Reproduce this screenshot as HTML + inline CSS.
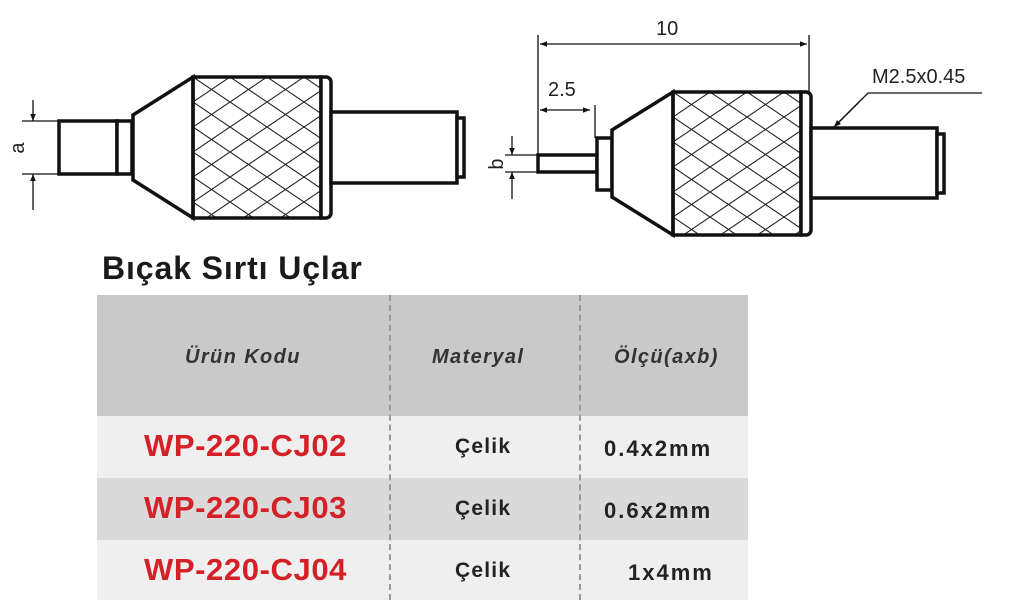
<!DOCTYPE html>
<html><head><meta charset="utf-8"><style>
body{margin:0;width:1024px;height:603px;background:#fff;overflow:hidden;font-family:"Liberation Sans",sans-serif;position:relative}
.t{position:absolute;white-space:nowrap}
.h{font-size:20px;font-style:italic;font-weight:bold;color:#333;letter-spacing:1.4px;top:346px}
.c{font-size:31px;font-weight:bold;color:#d42027;letter-spacing:0.6px;left:144px}
.m{font-size:21px;font-weight:bold;color:#222;letter-spacing:1.2px}
</style></head><body>
<svg width="1024" height="260" style="position:absolute;left:0;top:0" font-family="Liberation Sans, sans-serif">
<defs>
<pattern id="k" x="193" y="77" width="37" height="25" patternUnits="userSpaceOnUse">
<path d="M-1,-0.7 L38,25.7 M-1,25.7 L38,-0.7" stroke="#222" stroke-width="1.1" fill="none"/>
</pattern>
<pattern id="k2" x="673" y="92" width="37" height="25" patternUnits="userSpaceOnUse">
<path d="M-1,-0.7 L38,25.7 M-1,25.7 L38,-0.7" stroke="#222" stroke-width="1.1" fill="none"/>
</pattern>
<marker id="a" viewBox="0 0 10 10" refX="10" refY="5" markerWidth="9" markerHeight="7" orient="auto-start-reverse" markerUnits="userSpaceOnUse"><path d="M0,1 L10,5 L0,9 z" fill="#111"/></marker>
</defs>
<g stroke="#111" fill="#fff" stroke-width="3.5">
<rect x="59" y="121" width="58" height="53"/>
<rect x="117" y="121" width="15" height="53"/>
<polygon points="133,115 193,77 193,218 133,180"/>
<rect x="193" y="77" width="128" height="141" fill="url(#k)"/>
<path d="M321,77 h5 a5,5 0 0 1 5,5 v131 a5,5 0 0 1 -5,5 h-5 z" fill="#fff"/>
<rect x="331" y="112" width="126" height="71"/>
<rect x="457" y="118" width="7" height="59"/>
<rect x="538" y="155" width="59" height="17"/>
<rect x="597" y="138" width="15" height="52"/>
<polygon points="612,130 673,92 673,235 612,197"/>
<rect x="673" y="92" width="128" height="143" fill="url(#k2)"/>
<path d="M801,92 h5 a5,5 0 0 1 5,5 v133 a5,5 0 0 1 -5,5 h-5 z" fill="#fff"/>
<rect x="811" y="128" width="126" height="70"/>
<rect x="937" y="134" width="7" height="59"/>
</g>
<g stroke="#111" stroke-width="1.3" fill="none">
<line x1="22" y1="121" x2="59" y2="121"/><line x1="22" y1="174" x2="59" y2="174"/>
<line x1="33" y1="100" x2="33" y2="121" marker-end="url(#a)"/>
<line x1="33" y1="210" x2="33" y2="174" marker-end="url(#a)"/>
<line x1="538" y1="35" x2="538" y2="172"/>
<line x1="809" y1="35" x2="809" y2="92"/>
<line x1="540" y1="44" x2="807" y2="44" marker-start="url(#a)" marker-end="url(#a)"/>
<line x1="595" y1="105" x2="595" y2="138"/>
<line x1="540" y1="110" x2="590" y2="110" marker-start="url(#a)" marker-end="url(#a)"/>
<line x1="505" y1="155" x2="538" y2="155"/><line x1="505" y1="172" x2="538" y2="172"/>
<line x1="512" y1="136" x2="512" y2="155" marker-end="url(#a)"/>
<line x1="512" y1="199" x2="512" y2="172" marker-end="url(#a)"/>
<polyline points="982,93 868,93 835,126"/>
<line x1="860" y1="101" x2="834" y2="127" marker-end="url(#a)"/>
</g>
<g fill="#222" font-size="20">
<text x="656" y="35">10</text>
<text x="548" y="96">2.5</text>
<text x="872" y="83">M2.5x0.45</text>
<text transform="translate(24,148) rotate(-90)" text-anchor="middle">a</text>
<text transform="translate(503,164) rotate(-90)" text-anchor="middle">b</text>
</g>
</svg>
<div class="t" style="left:102px;top:250px;font-size:32px;font-weight:bold;color:#1a1a1a;letter-spacing:0.9px">Bıçak Sırtı Uçlar</div>
<div style="position:absolute;left:97px;top:295px;width:651px;height:121px;background:#c9c9c9"></div>
<div style="position:absolute;left:97px;top:416px;width:651px;height:62px;background:#efefef"></div>
<div style="position:absolute;left:97px;top:478px;width:651px;height:62px;background:#dadada"></div>
<div style="position:absolute;left:97px;top:540px;width:651px;height:60px;background:#efefef"></div>
<div style="position:absolute;left:389px;top:295px;height:305px;border-left:2px dashed #999"></div>
<div style="position:absolute;left:579px;top:295px;height:305px;border-left:2px dashed #999"></div>
<div class="t h" style="left:185px">Ürün Kodu</div>
<div class="t h" style="left:432px">Materyal</div>
<div class="t h" style="left:614px">Ölçü(axb)</div>
<div class="t c" style="top:428px">WP-220-CJ02</div>
<div class="t c" style="top:490px">WP-220-CJ03</div>
<div class="t c" style="top:552px">WP-220-CJ04</div>
<div class="t m" style="left:455px;top:435px">Çelik</div>
<div class="t m" style="left:455px;top:497px">Çelik</div>
<div class="t m" style="left:455px;top:559px">Çelik</div>
<div class="t m" style="left:604px;top:436px;font-size:22px;letter-spacing:2px">0.4x2mm</div>
<div class="t m" style="left:604px;top:498px;font-size:22px;letter-spacing:2px">0.6x2mm</div>
<div class="t m" style="left:628px;top:560px;font-size:22px;letter-spacing:2px">1x4mm</div>
</body></html>
